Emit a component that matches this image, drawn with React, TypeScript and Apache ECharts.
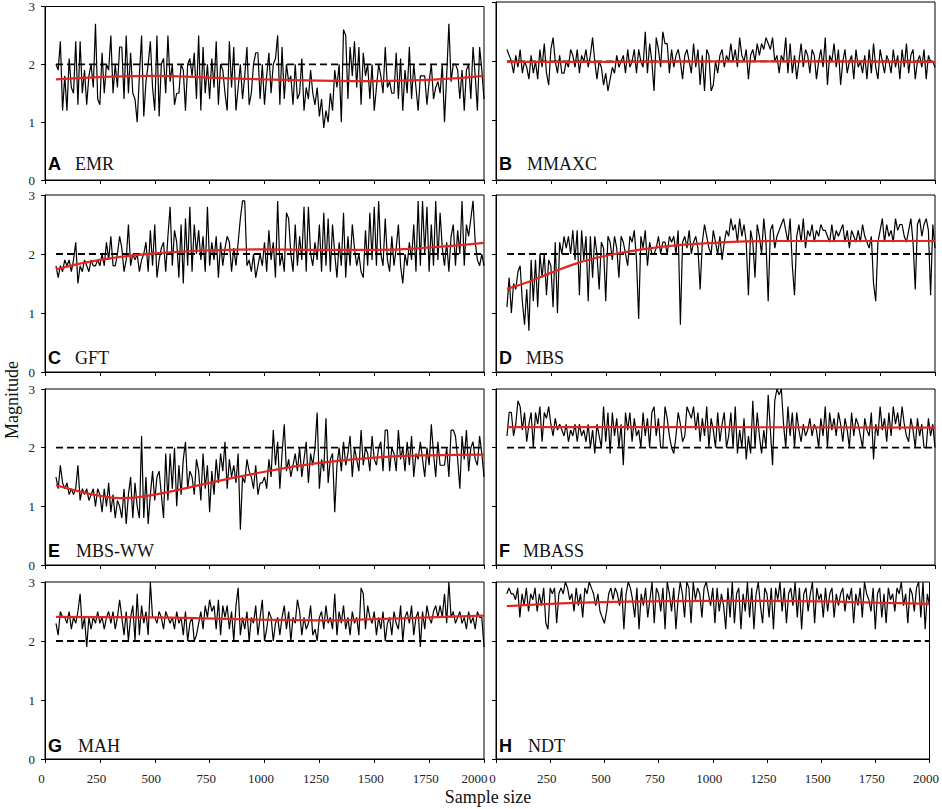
import React, { useEffect, useRef } from "react";
import * as echarts from "echarts";

// Sample sizes run from 50 to 2000 in steps of 10 (196 points per method)
const START = 50;
const STEP = 10;

const letters = ["A", "B", "C", "D", "E", "F", "G", "H"];
const methods = ["EMR", "MMAXC", "GFT", "MBS", "MBS-WW", "MBASS", "MAH", "NDT"];

const xTickInterval = 250;
const xMax = 2000;
const yMax = 3;
const referenceMagnitude = 2;

const emr = [
  2.0,1.9,2.4,1.2,1.8, 1.2,2.1,1.6,1.5,2.4, 1.3,2.4,1.5,1.9,1.3, 1.8,2.0,1.6,2.7,1.4, 1.3,2.2,1.5,2.0,1.9,
  2.5,1.5,2.0,1.6,2.3, 2.3,1.4,2.5,1.5,2.2, 1.5,1.4,1.0,1.8,2.5, 1.1,1.7,2.0,2.4,1.6, 1.2,2.5,1.1,2.0,2.1,
  1.5,2.5,1.7,2.0,1.3, 1.5,1.5,2.0,1.9,1.2, 2.0,2.1,1.8,2.2,1.4, 2.5,1.2,2.3,1.5,2.0, 1.4,2.1,1.6,2.4,1.3,
  2.0,1.9,1.5,1.2,2.4, 1.6,2.3,1.2,1.6,2.0, 1.4,1.8,2.3,1.3,1.5, 2.0,2.2,2.2,1.4,2.0, 1.3,1.8,2.2,1.5,2.0,
  2.1,2.5,1.3,2.3,1.4, 2.0,1.7,1.8,1.3,2.0, 1.4,1.5,2.1,1.2,1.6, 1.4,1.9,1.5,1.3,1.6, 1.1,1.4,0.9,1.2,1.0,
  1.5,1.2,1.9,1.6,2.0, 1.0,2.6,2.5,1.4,2.3, 1.8,2.4,1.6,2.3,1.3, 2.2,1.8,2.0,1.4,2.0, 1.2,1.6,2.0,1.8,1.5,
  2.3,1.6,1.7,1.5,1.5, 2.2,1.4,2.1,1.2,1.9, 1.5,2.3,1.4,2.0,1.6, 1.2,1.8,1.8,1.8,1.3, 1.7,2.0,1.4,1.6,1.7,
  1.5,2.0,1.0,1.8,2.7, 1.7,2.0,2.0,1.9,1.4, 1.9,1.2,1.9,2.0,1.4, 2.3,1.8,1.2,2.3,1.9, 1.4,
];
const mmaxc = [
  2.2,2.1,2.0,1.8,2.1, 1.9,2.2,1.8,2.0,1.9, 1.7,2.1,1.8,2.0,1.7, 2.2,1.9,2.3,1.8,1.6, 2.2,2.4,2.0,1.8,2.1,
  1.8,1.8,2.0,1.9,2.2, 2.1,1.9,2.2,1.8,2.1, 2.0,2.2,1.9,2.1,2.4, 2.0,1.7,2.0,1.9,1.6, 1.8,1.5,1.7,1.9,1.8,
  2.1,1.9,2.0,2.1,1.8, 2.2,1.9,2.0,2.2,1.8, 2.2,2.0,1.9,2.5,1.8, 2.3,2.0,1.5,2.4,2.2, 1.9,2.5,2.3,2.3,1.8,
  2.2,1.9,2.1,2.2,2.0, 1.7,2.1,2.2,2.0,1.8, 2.3,1.9,2.2,1.6,2.1, 1.5,2.2,2.1,1.5,1.6, 2.0,1.8,2.1,2.2,1.9,
  2.1,2.0,2.3,2.0,2.2, 1.9,2.4,2.1,2.0,2.2, 1.7,2.1,2.2,2.0,2.3, 2.1,2.3,2.2,2.4,2.3, 2.2,2.4,2.0,2.1,1.8,
  2.1,2.0,2.4,1.8,2.3, 1.8,2.1,1.7,2.0,2.3, 1.9,2.2,2.1,1.8,2.2, 2.1,1.7,2.0,2.2,1.9, 2.4,1.6,2.1,2.0,2.3,
  1.9,2.2,1.6,2.0,2.2, 1.8,2.0,2.1,1.7,2.2, 1.9,2.0,1.8,2.1,1.7, 2.2,1.8,2.3,1.9,1.7, 2.2,2.0,1.8,2.1,2.0,
  1.8,2.2,1.9,2.1,1.7, 2.2,1.9,2.3,1.8,2.1, 2.2,1.7,2.0,2.1,1.9, 2.2,1.7,2.1,2.0,2.0, 1.9,
];
const gft = [
  1.8,1.6,1.8,1.7,1.9, 1.8,1.9,1.7,1.9,2.2, 1.5,1.8,1.7,1.9,1.8, 1.7,1.9,1.8,1.8,1.9, 1.8,2.0,1.8,2.2,1.9,
  2.3,1.8,1.8,2.0,2.3, 2.1,1.7,1.9,2.5,1.8, 2.0,1.9,2.0,1.7,1.9, 2.0,2.2,1.7,2.4,1.8, 2.5,1.6,1.9,2.1,2.2,
  1.7,2.3,2.8,1.8,2.4, 2.2,1.6,2.5,1.5,2.6, 1.8,2.8,1.7,2.5,2.0, 2.4,1.9,2.3,1.7,2.8, 1.8,2.2,1.9,2.3,1.6,
  2.2,1.8,2.1,2.3,2.2, 1.7,2.1,1.8,2.2,2.6, 2.9,2.9,1.8,1.9,1.7, 2.0,1.6,1.8,2.0,1.8, 2.2,1.7,2.4,1.9,2.2,
  1.6,2.9,1.8,2.0,1.7, 2.7,2.6,2.0,1.7,2.5, 1.8,2.3,1.9,2.8,1.7, 2.8,2.0,1.8,2.2,1.9, 2.5,1.7,2.7,1.8,2.6,
  1.7,2.5,2.0,1.6,2.2, 1.8,2.7,1.6,2.3,1.8, 2.5,2.1,1.8,2.0,1.7, 1.6,2.4,1.8,2.7,1.9, 2.8,1.8,2.9,2.0,1.8,
  2.6,1.9,1.7,2.3,1.8, 2.1,2.5,1.8,1.5,2.0, 1.8,2.2,1.9,2.5,1.7, 2.9,1.8,2.9,2.0,2.8, 1.7,2.5,1.8,2.9,1.9,
  2.7,2.1,1.8,2.2,1.7, 2.3,2.5,1.8,2.4,2.0, 2.9,1.8,2.5,2.3,2.6, 2.9,2.2,1.9,1.8,2.0, 1.8,
];
const mbs = [
  1.1,1.6,1.0,1.5,1.4, 1.7,1.8,1.2,0.8,1.4, 0.7,1.9,1.2,1.9,1.1, 2.0,1.6,2.0,1.3,1.9, 1.8,1.1,2.2,1.0,2.2,
  2.0,2.3,2.1,2.3,2.0, 2.4,1.9,2.4,1.3,2.4, 1.9,2.3,1.2,2.3,1.6, 2.3,2.0,1.4,2.2,2.1, 1.2,2.3,2.2,1.9,2.3,
  2.1,1.6,2.3,2.2,2.0, 1.8,2.3,2.2,2.4,1.9, 0.9,2.3,2.1,2.4,1.8, 2.2,2.0,2.0,2.1,2.3, 2.0,2.2,2.2,2.0,2.3,
  2.2,2.3,2.0,2.4,0.8, 2.2,2.3,2.1,2.4,2.0, 2.2,2.3,2.1,1.4,2.2, 2.5,2.3,2.1,2.0,2.4, 2.2,2.0,2.3,1.9,2.2,
  2.4,2.3,2.6,2.4,2.5, 2.2,2.6,2.3,2.5,2.2, 1.3,2.4,2.2,1.6,2.5, 2.3,2.0,2.6,2.2,1.2, 2.4,2.5,2.1,2.3,2.4,
  2.5,2.6,2.4,2.2,2.6, 1.8,1.3,2.3,2.5,2.2, 2.6,2.1,2.4,2.3,2.5, 2.2,2.4,2.3,2.5,2.4, 2.4,2.3,2.2,2.5,2.2,
  2.4,2.3,2.4,2.5,2.2, 2.4,2.1,2.4,2.3,2.2, 2.4,2.2,2.5,2.3,2.2, 2.1,2.3,1.5,1.2,2.2, 2.4,2.6,2.2,2.5,2.3,
  2.4,2.2,2.6,2.4,2.5, 2.5,2.3,2.2,2.4,2.6, 2.2,1.4,2.5,2.6,2.3, 2.5,2.6,2.4,1.3,2.5, 2.1,
];
const mbsww = [
  1.5,1.3,1.7,1.4,1.3, 1.4,1.2,1.3,1.2,1.3, 1.7,1.1,1.3,1.2,1.3, 1.1,1.2,1.3,1.0,1.3, 1.2,0.9,1.3,1.0,1.4,
  0.9,1.2,0.8,1.1,1.0, 0.8,1.3,0.7,1.2,1.5, 0.8,1.4,1.0,0.8,2.2, 0.8,1.5,0.7,1.2,1.6, 1.1,1.5,1.6,1.2,0.8,
  1.9,1.1,1.9,1.3,2.0, 1.0,1.7,1.2,1.8,2.1, 1.3,1.6,1.5,1.2,1.8, 1.6,1.1,1.9,1.3,1.7, 0.9,1.6,1.2,1.8,1.4,
  1.9,1.6,2.1,1.3,1.8, 1.5,1.7,1.4,1.9,0.6, 1.5,1.4,1.8,1.6,1.5, 1.3,1.7,1.2,1.4,1.4, 1.5,1.3,1.8,1.5,2.3,
  1.7,2.1,1.3,1.9,2.4, 1.6,1.8,1.5,1.7,1.9, 1.6,2.0,1.5,1.8,2.1, 1.4,1.9,1.7,2.0,2.6, 1.3,1.8,1.6,2.5,1.4,
  1.8,1.9,0.9,1.7,2.0, 1.6,2.1,1.7,1.9,2.2, 1.5,2.0,1.8,1.6,2.3, 1.7,2.0,1.9,1.6,2.2, 1.8,1.7,2.0,2.1,1.6,
  2.3,2.3,1.6,2.0,1.9, 1.6,2.3,1.8,2.0,1.6, 2.1,1.7,2.2,1.5,1.9, 1.8,2.1,1.8,1.5,2.0, 1.7,2.4,1.9,1.5,2.1,
  1.7,1.7,1.7,2.0,1.5, 2.3,2.3,2.2,1.8,1.3, 2.2,1.8,2.3,1.6,2.0, 2.1,1.8,1.7,2.2,1.9, 1.5,
];
const mbass = [
  2.2,2.6,2.6,2.2,2.4, 2.8,2.7,2.3,2.6,2.1, 2.4,2.6,2.0,2.6,2.4, 2.7,2.1,2.6,2.5,2.7, 2.4,2.2,2.5,2.3,2.4,
  2.3,2.2,2.4,2.1,2.3, 2.2,2.4,2.1,2.4,2.2, 2.3,2.1,2.4,2.0,2.3, 1.9,2.4,2.2,2.0,2.7, 2.1,2.6,1.9,2.6,2.2,
  2.5,2.0,2.4,1.7,2.6, 2.3,2.6,2.1,2.5,2.2, 2.3,2.0,2.6,2.2,2.5, 2.0,2.6,2.7,2.2,2.5, 2.0,2.0,2.7,2.5,2.2,
  2.0,1.9,2.2,2.6,2.4, 2.1,2.2,2.7,2.6,2.5, 2.7,2.3,2.6,2.1,2.5, 2.2,2.7,2.0,2.5,2.3, 2.0,2.6,2.1,2.4,2.6,
  2.0,2.2,2.6,2.0,2.7, 1.9,2.3,2.0,2.5,1.8, 2.2,1.9,2.8,2.0,2.6, 2.2,1.9,2.3,2.0,2.9, 2.3,1.7,2.8,3.0,2.9,
  3.0,2.4,2.0,2.7,2.2, 2.6,2.0,2.6,2.3,2.1, 2.4,2.2,2.3,2.5,2.2, 2.4,2.3,2.0,2.5,2.2, 2.7,2.0,2.6,2.3,2.5,
  2.2,2.6,2.4,2.1,2.5, 2.3,2.0,2.6,2.2,2.5, 2.4,2.2,2.0,2.5,2.3, 2.2,2.6,1.8,2.4,2.2, 2.7,2.3,2.5,2.1,2.6,
  2.2,2.7,2.4,2.6,2.3, 2.7,2.4,2.2,2.1,2.5, 2.3,2.0,2.5,2.2,2.4, 2.0,2.0,2.5,2.2,2.4, 2.0,
];
const mah = [
  2.3,2.1,2.5,2.4,2.4, 2.3,2.5,2.2,2.4,2.3, 2.5,2.8,2.2,2.4,1.9, 2.4,2.2,2.4,2.3,2.5, 2.3,2.4,2.2,2.4,2.5,
  2.3,2.5,2.2,2.4,2.7, 2.4,2.1,2.5,2.0,2.4, 2.6,2.0,2.8,2.1,2.6, 2.3,2.5,2.1,3.0,2.4, 2.4,2.3,2.5,2.4,2.2,
  2.5,2.4,2.3,2.4,2.2, 2.5,2.3,2.4,2.1,2.5, 2.0,2.3,2.4,2.0,2.1, 2.3,2.5,2.2,2.6,2.4, 2.7,2.5,2.6,2.2,2.7,
  2.1,2.6,2.4,2.6,2.2, 2.5,2.0,2.6,2.9,2.1, 2.4,2.2,2.5,2.0,2.4, 2.3,2.6,2.1,2.4,2.7, 2.0,2.2,2.5,2.4,2.0,
  2.3,2.4,2.1,2.4,2.6, 2.2,2.5,2.0,2.4,2.3, 2.7,2.5,2.1,2.4,2.2, 2.3,2.6,2.1,2.2,2.0, 2.4,2.5,2.2,2.6,2.3,
  2.4,2.2,2.8,2.1,2.5, 2.3,2.6,2.2,2.4,2.1, 2.5,2.3,2.4,2.1,2.9, 2.8,2.2,2.6,2.4,2.3, 2.5,2.1,2.4,2.2,2.5,
  2.0,2.3,2.4,2.1,2.5, 2.3,2.2,2.6,2.0,2.4, 2.5,2.3,2.6,2.1,2.4, 2.5,1.9,2.5,2.2,2.6, 2.4,2.3,2.5,2.6,2.4,
  2.6,2.4,2.8,2.3,3.0, 2.4,2.5,2.3,2.4,2.5, 2.3,2.4,2.2,2.5,2.3, 2.4,2.2,2.5,2.4,2.4, 1.9,
];
const ndt = [
  2.8,2.9,2.8,2.8,2.7, 2.9,2.4,2.8,2.6,2.9, 2.5,2.8,2.7,2.9,2.5, 2.8,2.6,2.9,2.3,2.2, 2.9,2.8,2.9,2.3,2.8,
  2.9,2.8,3.0,2.9,2.7, 2.8,2.5,2.9,2.6,2.8, 2.4,2.9,2.8,3.0,2.9, 2.8,2.6,2.8,2.5,2.4, 2.3,2.5,2.8,2.9,2.7,
  2.9,2.8,2.6,2.9,2.2, 2.8,3.0,2.9,2.7,2.4, 2.9,2.2,2.8,2.6,2.9, 2.4,2.7,3.0,2.3,2.9, 2.8,2.5,2.9,2.2,3.0,
  2.8,2.5,2.9,2.2,2.7, 3.0,2.8,2.4,3.0,2.9, 2.3,3.0,2.7,2.9,2.8, 2.4,2.9,3.0,2.8,2.6, 2.9,2.3,2.9,2.5,2.8,
  2.6,2.2,2.9,2.4,3.0, 2.3,2.8,2.9,2.2,2.8, 2.5,3.0,2.4,2.9,2.2, 2.8,3.0,2.6,2.3,2.9, 2.8,2.4,2.9,2.2,2.9,
  2.7,3.0,2.5,2.9,2.3, 2.8,2.9,2.6,3.0,2.4, 2.9,2.2,2.8,2.9,2.5, 2.8,3.0,2.3,2.9,2.7, 2.8,2.4,2.9,2.5,2.8,
  2.9,2.4,2.8,2.6,2.8, 2.9,2.5,2.8,2.7,2.9, 2.3,2.8,2.6,2.9,2.4, 3.0,2.8,2.7,2.5,2.9, 2.2,2.8,2.9,2.4,2.8,
  2.3,2.9,2.7,2.8,2.5, 2.9,2.8,3.0,2.6,2.8, 2.3,2.9,2.8,2.5,2.9, 3.0,2.4,3.0,2.2,2.8, 2.6,
];

// Smooth trend (red) curves: [sample size, magnitude]
const trendEmr = [[50, 1.74], [250, 1.78], [500, 1.80], [750, 1.77], [1000, 1.74], [1250, 1.72], [1500, 1.71], [1750, 1.73], [2000, 1.80]];
const trendMmaxc = [[50, 1.99], [500, 1.99], [1000, 2.0], [1500, 2.0], [2000, 1.99]];
const trendGft = [[50, 1.74], [250, 1.90], [500, 2.01], [750, 2.06], [1000, 2.08], [1250, 2.07], [1500, 2.07], [1750, 2.11], [2000, 2.19]];
const trendMbs = [[50, 1.41], [150, 1.53], [250, 1.68], [375, 1.85], [500, 1.97], [750, 2.12], [1000, 2.19], [1250, 2.22], [1500, 2.22], [1750, 2.22], [2000, 2.22]];
const trendMbsww = [[50, 1.36], [150, 1.26], [250, 1.18], [350, 1.14], [500, 1.20], [750, 1.40], [1000, 1.59], [1250, 1.74], [1500, 1.83], [1750, 1.87], [2000, 1.88]];
const trendMbass = [[50, 2.35], [1000, 2.35], [2000, 2.34]];
const trendMah = [[50, 2.41], [500, 2.40], [1000, 2.36], [1250, 2.35], [1500, 2.37], [1750, 2.40], [2000, 2.43]];
const trendNdt = [[50, 2.59], [250, 2.63], [500, 2.66], [1000, 2.68], [1500, 2.67], [1750, 2.65], [2000, 2.63]];

const seriesValues = [emr, mmaxc, gft, mbs, mbsww, mbass, mah, ndt];
const trends = [trendEmr, trendMmaxc, trendGft, trendMbs, trendMbsww, trendMbass, trendMah, trendNdt];

// Layout (pixels)
const COL_LEFT = [45, 496];
const GRID_W = 439;
const ROW_TOP = [2, 195, 389, 582];
const ROW_H = [178, 177, 176, 177];
const LABEL_UP = [16.5, 14, 14, 13.5];
const NAME_OFFSET = [30, 31, 30, 30, 31, 27, 33, 32];

const SERIF = "Liberation Serif";
const SANS = "Liberation Sans";

export default function App() {
  const ref = useRef<HTMLDivElement>(null);

  useEffect(() => {
    document.body.style.margin = "0";
    if (!ref.current) return;
    const chart = echarts.init(ref.current, undefined, { renderer: "svg" });

    const grid: any[] = [];
    const xAxis: any[] = [];
    const yAxis: any[] = [];
    const series: any[] = [];
    const graphic: any[] = [];

    for (let i = 0; i < 8; i++) {
      const col = i % 2;
      const row = Math.floor(i / 2);
      const left = COL_LEFT[col];
      const top = ROW_TOP[row];
      const h = ROW_H[row];
      grid.push({
        left, top, width: GRID_W, height: h,
        show: true, borderColor: "#000", borderWidth: 1, backgroundColor: "transparent",
      });
      xAxis.push({
        gridIndex: i, type: "value", min: 0, max: xMax, interval: xTickInterval,
        axisLine: { show: true, onZero: false, lineStyle: { color: "#000", width: 1 } },
        axisTick: { show: true, inside: false, length: 4, lineStyle: { color: "#000", width: 1 } },
        axisLabel: {
          show: row === 3, margin: 13, fontFamily: SERIF, fontSize: 13, color: "#222",
          padding: [0, 7, 0, 0],
          formatter: (v: number) => (col === 0 && v === xMax ? `{last|${v}}` : String(v)),
          rich: { last: { fontFamily: SERIF, fontSize: 13, color: "#222", padding: [0, 12, 0, 0] } },
        },
        splitLine: { show: false },
      });
      yAxis.push({
        gridIndex: i, type: "value", min: 0, max: yMax, interval: 1,
        axisLine: { show: true, onZero: false, lineStyle: { color: "#000", width: 1 } },
        axisTick: { show: true, inside: false, length: 4, lineStyle: { color: "#000", width: 1 } },
        axisLabel: { show: col === 0, margin: 10, fontFamily: SERIF, fontSize: 13, color: "#222" },
        splitLine: { show: false },
      });
      series.push({
        type: "line", xAxisIndex: i, yAxisIndex: i, silent: true,
        data: [[START, referenceMagnitude], [xMax, referenceMagnitude]],
        showSymbol: false, symbol: "none",
        lineStyle: { color: "#000", width: 1.8, type: [7, 4] }, z: 2,
      });
      series.push({
        type: "line", xAxisIndex: i, yAxisIndex: i, silent: true,
        data: seriesValues[i].map((v, k) => [START + k * STEP, v]),
        showSymbol: false, symbol: "none",
        lineStyle: { color: "#000", width: 1.2 }, z: 3,
      });
      series.push({
        type: "line", xAxisIndex: i, yAxisIndex: i, silent: true,
        data: trends[i], smooth: 0.5,
        showSymbol: false, symbol: "none",
        lineStyle: { color: "#e3261f", width: 2.2 }, z: 4,
      });
      const cy = top + h - LABEL_UP[row];
      graphic.push({
        type: "text", x: left + 3, y: cy, z: 10,
        style: {
          text: letters[i], fontFamily: SANS, fontSize: 18, fontWeight: "bold", fill: "#000",
          textAlign: "left", textVerticalAlign: "middle", align: "left", verticalAlign: "middle",
        },
      });
      graphic.push({
        type: "text", x: left + NAME_OFFSET[i], y: cy, z: 10,
        style: {
          text: methods[i], fontFamily: SERIF, fontSize: 18, fill: "#111",
          textAlign: "left", textVerticalAlign: "middle", align: "left", verticalAlign: "middle",
        },
      });
    }

    graphic.push({
      type: "text", x: 12, y: 400, rotation: Math.PI / 2, z: 10,
      style: {
        text: "Magnitude", fontFamily: SERIF, fontSize: 18, fill: "#111",
        textAlign: "center", textVerticalAlign: "middle", align: "center", verticalAlign: "middle",
      },
    });
    graphic.push({
      type: "text", x: 488, y: 797, z: 10,
      style: {
        text: "Sample size", fontFamily: SERIF, fontSize: 18, fill: "#111",
        textAlign: "center", textVerticalAlign: "middle", align: "center", verticalAlign: "middle",
      },
    });

    chart.setOption({
      animation: false,
      backgroundColor: "#fff",
      textStyle: { fontFamily: SERIF },
      grid, xAxis, yAxis, series, graphic,
    });

    return () => chart.dispose();
  }, []);

  return <div ref={ref} style={{ width: 942, height: 809 }} />;
}
